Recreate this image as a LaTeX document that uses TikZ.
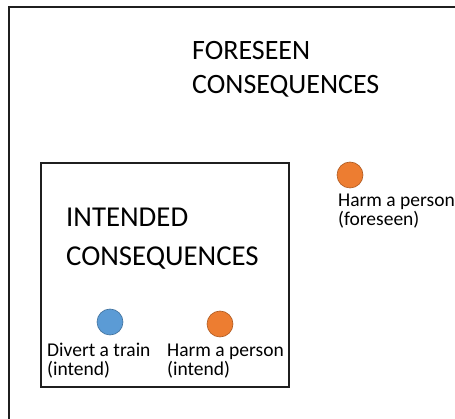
\documentclass[tikz,border=0pt]{standalone}
\usepackage{fontspec}
\setmainfont{Carlito}
\begin{document}
\begin{tikzpicture}[
  x=1pt, y=-1pt,
  title/.style={anchor=base west, inner sep=0pt, align=left,
                font=\fontsize{28}{34}\selectfont},
  lbl/.style={anchor=base west, inner sep=0pt, align=left,
              font=\fontsize{19.5}{19}\selectfont},
  dot/.style={circle, draw, line width=0.6pt, inner sep=0pt, minimum size=26pt},
  frm/.style={draw, line width=2.4pt, color=black!88},
  box/.style={draw, line width=1.4pt, color=black!88}
]
\clip (0,0) rectangle (455,419);
% ---------------- frames ----------------
\draw[frm] (9,7) rectangle (480,440);
\draw[box] (41,163) rectangle (289,387);
% ---------------- titles ----------------
\node[title] (tfore) at (192,94) {FORESEEN\\CONSEQUENCES};
\node[title, font=\fontsize{28.8}{39}\selectfont] (tint) at (66,266)
  {INTENDED\\CONSEQUENCES};
% ---------------- consequences ----------------
\node[dot, fill={rgb,255:red,91;green,155;blue,213}, draw={rgb,255:red,65;green,113;blue,156}]
  (train) at (110,322) {};
\node[dot, fill={rgb,255:red,237;green,125;blue,49}, draw={rgb,255:red,174;green,90;blue,33}]
  (harmi) at (220,324) {};
\node[dot, fill={rgb,255:red,237;green,125;blue,49}, draw={rgb,255:red,174;green,90;blue,33}]
  (harmf) at (350,175) {};
\node[lbl] (ltrain) at (47,376) {Divert a train\\(intend)};
\node[lbl] (lharmi) at (167,376) {Harm a person\\(intend)};
\node[lbl] (lharmf) at (338,226) {Harm a person\\(foreseen)};
\end{tikzpicture}
\end{document}
